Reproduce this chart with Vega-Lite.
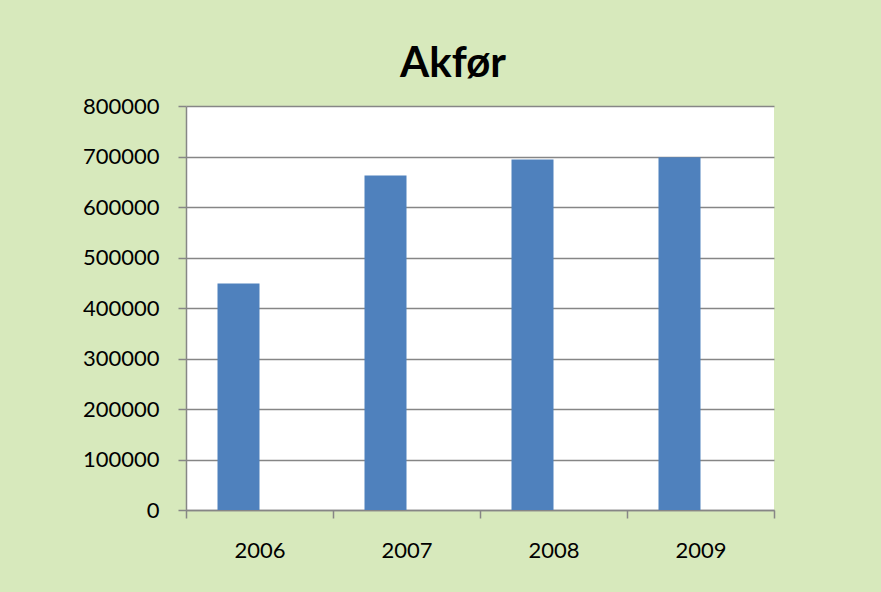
{
  "$schema": "https://vega.github.io/schema/vega-lite/v6.json",
  "autosize": "none",
  "width": 588,
  "height": 404,
  "padding": {"left": 186, "top": 106, "right": 107, "bottom": 82},
  "background": "#d7e9bc",
  "title": {
    "text": "Akfør",
    "font": "Lato",
    "fontSize": 42,
    "fontWeight": "bold",
    "color": "#000000",
    "anchor": "middle",
    "frame": "group",
    "baseline": "alphabetic",
    "offset": 29,
    "dx": -27,
    "dy": 53
  },
  "data": {
    "values": [
      {"year": "2006", "series": "Akfør", "value": 448600},
      {"year": "2007", "series": "Akfør", "value": 662300},
      {"year": "2008", "series": "Akfør", "value": 693900},
      {"year": "2009", "series": "Akfør", "value": 698400}
    ]
  },
  "mark": {"type": "bar", "color": "#4f81bd"},
  "encoding": {
    "x": {
      "field": "year",
      "type": "ordinal",
      "scale": {"paddingInner": 0, "paddingOuter": 0},
      "axis": {
        "title": null,
        "labelAngle": 0,
        "tickBand": "extent",
        "labelFont": "Lato",
        "labelFontSize": 22,
        "labelColor": "#000000",
        "labelPadding": 22,
        "tickSize": 8,
        "tickColor": "#868686",
        "tickWidth": 1.5,
        "domainColor": "#868686",
        "domainWidth": 1.5,
        "grid": false
      }
    },
    "xOffset": {
      "field": "series",
      "type": "nominal",
      "scale": {"domain": ["Akfør", "_"], "paddingInner": 0, "paddingOuter": 0.75}
    },
    "y": {
      "field": "value",
      "type": "quantitative",
      "scale": {"domain": [0, 800000]},
      "axis": {
        "title": null,
        "values": [0, 100000, 200000, 300000, 400000, 500000, 600000, 700000, 800000],
        "format": "d",
        "labelFont": "Lato",
        "labelFontSize": 22,
        "labelColor": "#000000",
        "labelPadding": 19,
        "tickSize": 8,
        "tickColor": "#868686",
        "tickWidth": 1.5,
        "domainColor": "#868686",
        "domainWidth": 1.5,
        "grid": true,
        "gridColor": "#868686",
        "gridWidth": 1.5
      }
    }
  },
  "config": {
    "view": {"fill": "#ffffff", "stroke": null}
  }
}
